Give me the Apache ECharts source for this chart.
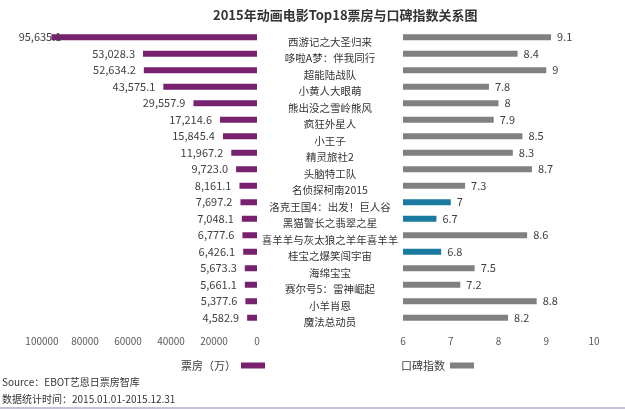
<!DOCTYPE html>
<html><head><meta charset="utf-8">
<script src="https://cdn.jsdelivr.net/npm/echarts@6/dist/echarts.min.js"></script>
<style>html,body{margin:0;padding:0;background:#fff}#c{width:625px;height:410px}</style>
</head><body><div id="c"></div>
<script>
const categories = ['西游记之大圣归来','哆啦A梦：伴我同行','超能陆战队','小黄人大眼萌','熊出没之雪岭熊风','疯狂外星人','小王子','精灵旅社2','头脑特工队','名侦探柯南2015','洛克王国4：出发！巨人谷','黑猫警长之翡翠之星','喜羊羊与灰太狼之羊年喜羊羊','桂宝之爆笑闯宇宙','海绵宝宝','赛尔号5：雷神崛起','小羊肖恩','魔法总动员'];
const boxOffice = [95635.1,53028.3,52634.2,43575.1,29557.9,17214.6,15845.4,11967.2,9723.0,8161.1,7697.2,7048.1,6777.6,6426.1,5673.3,5661.1,5377.6,4582.9];
const score = [9.1,8.4,9,7.8,8,7.9,8.5,8.3,8.7,7.3,7,6.7,8.6,6.8,7.5,7.2,8.8,8.2];

const FONT = '"Noto Sans CJK SC", "Noto Sans", sans-serif';
const PURPLE = '#77216f';
const GRAY = '#808080';
const BLUE = '#1a7aa0';
const fmt = v => v.toLocaleString('en-US', {minimumFractionDigits: 1, maximumFractionDigits: 1});
const chart = echarts.init(document.getElementById('c'));
chart.setOption({
  backgroundColor: '#fff',
  animation: false,
  textStyle: {fontFamily: FONT},
  title: {
    text: '2015年动画电影Top18票房与口碑指数关系图',
    left: 208, top: 4,
    textStyle: {fontSize: 13, fontWeight: 'bold', color: '#333', fontFamily: FONT}
  },
  legend: [
    {data: ['票房（万）'], left: 176, top: 355, align: 'right', itemWidth: 24, itemHeight: 6,
     textStyle: {fontSize: 11, color: '#404040'}, icon: 'rect'},
    {data: ['口碑指数'], left: 396, top: 355, align: 'right', itemWidth: 24, itemHeight: 6,
     textStyle: {fontSize: 11, color: '#404040'}, icon: 'rect'}
  ],
  grid: [
    {left: 42, width: 215, top: 29, height: 297},
    {left: 403, width: 191, top: 29, height: 297}
  ],
  xAxis: [
    {gridIndex: 0, type: 'value', inverse: true, min: 0, max: 100000, interval: 20000,
     axisLine: {show: false}, axisTick: {show: false}, splitLine: {show: false},
     axisLabel: {fontSize: 10, color: '#595959', margin: 10, formatter: v => String(v)}},
    {gridIndex: 1, type: 'value', min: 6, max: 10, interval: 1,
     axisLine: {show: false}, axisTick: {show: false}, splitLine: {show: false},
     axisLabel: {fontSize: 10, color: '#595959', margin: 10}}
  ],
  yAxis: [
    {gridIndex: 0, type: 'category', data: categories, inverse: true,
     axisLine: {show: false}, axisTick: {show: false}, axisLabel: {show: false}},
    {gridIndex: 1, type: 'category', data: categories, inverse: true,
     axisLine: {show: false}, axisTick: {show: false},
     axisLabel: {fontSize: 10.5, color: '#333', align: 'center', margin: 73,
       verticalAlign: 'top', lineHeight: 11, padding: [-1,0,0,0]}}
  ],
  series: [
    {name: '票房（万）', type: 'bar', xAxisIndex: 0, yAxisIndex: 0,
     data: boxOffice.map((v, i) => i === 0 ? {value: v, label: {offset: [18, 0]}} : v),
     barWidth: 6, itemStyle: {color: PURPLE},
     label: {show: true, position: 'left', distance: 8, fontSize: 11, color: '#404040',
       formatter: p => fmt(p.value)}},
    {name: '口碑指数', type: 'bar', xAxisIndex: 1, yAxisIndex: 1,
     data: score.map(v => ({value: v, itemStyle: {color: v <= 7 ? BLUE : GRAY}})),
     barWidth: 6, itemStyle: {color: GRAY},
     label: {show: true, position: 'right', distance: 6, fontSize: 11, color: '#404040'}}
  ],
  graphic: [
    {type: 'text', left: 2, top: 377, style: {text: 'Source：EBOT艺恩日票房智库', fontSize: 10, fill: '#333', fontFamily: FONT}},
    {type: 'text', left: 2, top: 394, style: {text: '数据统计时间：2015.01.01-2015.12.31', fontSize: 10, fill: '#333', fontFamily: FONT}},
    {type: 'rect', left: 0, top: 407, shape: {width: 625, height: 2}, style: {fill: '#c8c0d4'}}
  ]
});
</script></body></html>
